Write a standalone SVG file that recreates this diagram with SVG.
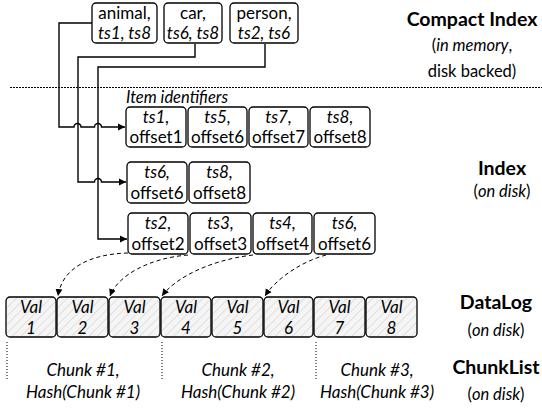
<svg xmlns="http://www.w3.org/2000/svg" width="542" height="409" viewBox="0 0 542 409">
<style>
text{font-family:Lato,"Noto Sans","Liberation Sans",sans-serif;fill:#000}
.t{font-size:17px;text-anchor:middle}
.i{font-style:italic}
.box{fill:#fff;stroke:#000;stroke-width:1.3}
.val{fill:url(#hatch);stroke:#000;stroke-width:1.3}
.ln{fill:none;stroke:#000;stroke-width:1.4}
.dash{fill:none;stroke:#000;stroke-width:1;stroke-dasharray:4 3}
.dot{fill:none;stroke:#000;stroke-width:1;stroke-dasharray:1 2}
.b{font-size:19.5px;font-weight:bold;text-anchor:middle}
.s{font-size:16.5px;text-anchor:middle}
</style>
<defs>
<pattern id="hatch" patternUnits="userSpaceOnUse" width="6" height="6" patternTransform="rotate(45)">
<rect width="6" height="6" fill="#f5f5f5"/>
<line x1="0" y1="0" x2="0" y2="6" stroke="#c9c9c9" stroke-width="1"/>
</pattern>
<marker id="ah" markerWidth="8" markerHeight="8" refX="7" refY="4" orient="auto" markerUnits="userSpaceOnUse">
<path d="M0,0.5 L7,4 L0,7.5 Z" fill="#000"/>
</marker>
</defs>

<g id="connectors">
<path class="ln" d="M92 23 H59 V127 H74 a3.5 3.5 0 0 1 7 0 H94.5 a3.5 3.5 0 0 1 7 0 H125" marker-end="url(#ah)"/>
<path class="ln" d="M195 44 V57 H78 V182 H94.5 a3.5 3.5 0 0 1 7 0 H126" marker-end="url(#ah)"/>
<path class="ln" d="M265 44 V67 H98 V239 H127" marker-end="url(#ah)"/>
<path class="dash" d="M128 253 C90 254 62 268 58 296" marker-end="url(#ah)"/>
<path class="dash" d="M188 255 C150 258 118 275 110 296" marker-end="url(#ah)"/>
<path class="dash" d="M253 255 C210 260 175 278 162 296" marker-end="url(#ah)"/>
<path class="dash" d="M326 255 C300 262 275 280 265 296" marker-end="url(#ah)"/>
<line x1="10" y1="87.5" x2="542" y2="87.5" stroke="#000" stroke-width="1.2" stroke-dasharray="2 1"/>
<line class="dot" x1="7" y1="342" x2="7" y2="381"/>
<line class="dot" x1="162" y1="342" x2="162" y2="381"/>
<line class="dot" x1="316" y1="342" x2="316" y2="381"/>
</g>

<g id="ci-animal"><rect class="box" x="92" y="3" width="65" height="40" rx="4"/>
<text class="t" x="124.5" y="19">animal,</text><text class="t i" x="124.5" y="39">ts1, ts8</text></g>
<g id="ci-car"><rect class="box" x="164" y="3" width="58" height="40" rx="4"/>
<text class="t" x="193" y="19">car,</text><text class="t i" x="193" y="39">ts6, ts8</text></g>
<g id="ci-person"><rect class="box" x="230" y="3" width="68" height="40" rx="4"/>
<text class="t" x="264" y="19">person,</text><text class="t i" x="264" y="39">ts2, ts6</text></g>

<text class="i" x="126" y="103" font-size="16.5">Item identifiers</text>

<g id="r1-ts1"><rect class="box" x="126" y="107" width="60" height="40" rx="4"/><text class="t i" x="156" y="123">ts1,</text><text class="t" x="156" y="143">offset1</text></g>
<g id="r1-ts5"><rect class="box" x="188" y="107" width="59" height="40" rx="4"/><text class="t i" x="217.5" y="123">ts5,</text><text class="t" x="217.5" y="143">offset6</text></g>
<g id="r1-ts7"><rect class="box" x="249" y="107" width="59" height="40" rx="4"/><text class="t i" x="278.5" y="123">ts7,</text><text class="t" x="278.5" y="143">offset7</text></g>
<g id="r1-ts8"><rect class="box" x="310" y="107" width="60" height="40" rx="4"/><text class="t i" x="340" y="123">ts8,</text><text class="t" x="340" y="143">offset8</text></g>

<g id="r2-ts6"><rect class="box" x="127" y="162" width="60" height="41" rx="4"/><text class="t i" x="157" y="178">ts6,</text><text class="t" x="157" y="199">offset6</text></g>
<g id="r2-ts8"><rect class="box" x="189" y="162" width="61" height="41" rx="4"/><text class="t i" x="219.5" y="178">ts8,</text><text class="t" x="219.5" y="199">offset8</text></g>

<g id="r3-ts2"><rect class="box" x="128" y="213" width="60" height="41" rx="4"/><text class="t i" x="158" y="229">ts2,</text><text class="t" x="158" y="250">offset2</text></g>
<g id="r3-ts3"><rect class="box" x="190" y="213" width="61" height="41" rx="4"/><text class="t i" x="220.5" y="229">ts3,</text><text class="t" x="220.5" y="250">offset3</text></g>
<g id="r3-ts4"><rect class="box" x="253" y="213" width="59" height="41" rx="4"/><text class="t i" x="282.5" y="229">ts4,</text><text class="t" x="282.5" y="250">offset4</text></g>
<g id="r3-ts6"><rect class="box" x="314" y="213" width="61" height="41" rx="4"/><text class="t i" x="344.5" y="229">ts6,</text><text class="t" x="344.5" y="250">offset6</text></g>

<g id="val1"><rect class="val" x="6" y="297" width="50" height="40" rx="4"/><text class="t i" x="31" y="313">Val</text><text class="t i" x="31" y="334">1</text></g>
<g id="val2"><rect class="val" x="57" y="297" width="51" height="40" rx="4"/><text class="t i" x="82.5" y="313">Val</text><text class="t i" x="82.5" y="334">2</text></g>
<g id="val3"><rect class="val" x="109" y="297" width="51" height="40" rx="4"/><text class="t i" x="134.5" y="313">Val</text><text class="t i" x="134.5" y="334">3</text></g>
<g id="val4"><rect class="val" x="161" y="297" width="50" height="40" rx="4"/><text class="t i" x="186" y="313">Val</text><text class="t i" x="186" y="334">4</text></g>
<g id="val5"><rect class="val" x="212" y="297" width="51" height="40" rx="4"/><text class="t i" x="237.5" y="313">Val</text><text class="t i" x="237.5" y="334">5</text></g>
<g id="val6"><rect class="val" x="264" y="297" width="49" height="40" rx="4"/><text class="t i" x="288.5" y="313">Val</text><text class="t i" x="288.5" y="334">6</text></g>
<g id="val7"><rect class="val" x="314" y="297" width="51" height="40" rx="4"/><text class="t i" x="339.5" y="313">Val</text><text class="t i" x="339.5" y="334">7</text></g>
<g id="val8"><rect class="val" x="366" y="297" width="51" height="40" rx="4"/><text class="t i" x="391.5" y="313">Val</text><text class="t i" x="391.5" y="334">8</text></g>

<g id="chunk1"><text class="t i" x="83" y="376">Chunk #1,</text><text class="t i" x="83" y="398">Hash(Chunk #1)</text></g>
<g id="chunk2"><text class="t i" x="238" y="376">Chunk #2,</text><text class="t i" x="238" y="398">Hash(Chunk #2)</text></g>
<g id="chunk3"><text class="t i" x="377" y="376">Chunk #3,</text><text class="t i" x="377" y="398">Hash(Chunk #3)</text></g>

<g id="labels">
<text class="b" x="472" y="26">Compact Index</text>
<text class="s" x="472" y="51">(<tspan font-style="italic">in memory</tspan>,</text>
<text class="s" x="472" y="77">disk backed)</text>
<text class="b" x="502" y="175">Index</text>
<text class="s" x="502" y="197">(<tspan font-style="italic">on disk</tspan>)</text>
<text class="b" x="496" y="309">DataLog</text>
<text class="s" x="496" y="336">(<tspan font-style="italic">on disk</tspan>)</text>
<text class="b" x="496" y="374">ChunkList</text>
<text class="s" x="496" y="400">(<tspan font-style="italic">on disk</tspan>)</text>
</g>
</svg>
